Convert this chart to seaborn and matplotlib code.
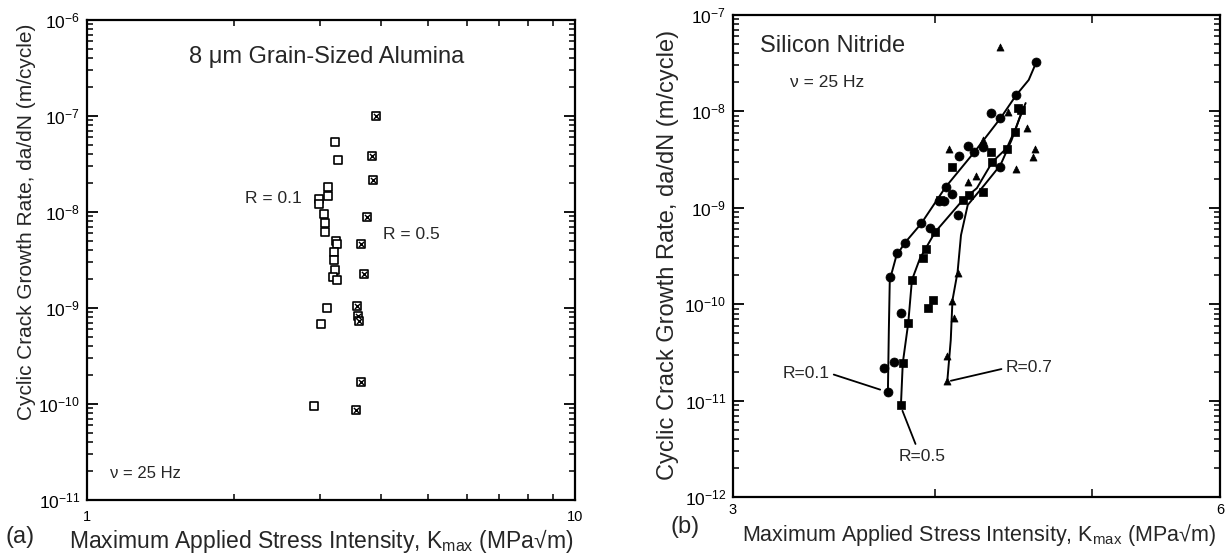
import numpy as np
import pandas as pd
import matplotlib
matplotlib.use("Agg")
import matplotlib.pyplot as plt
import seaborn as sns
from matplotlib.ticker import FixedLocator, NullFormatter, FixedFormatter

# ---------------- Panel (a): 8 um grain-sized alumina ----------------
a_r01_k = [3.22, 3.27, 3.12, 3.12, 2.99, 2.99, 3.06, 3.08, 3.07, 3.24, 3.25,
           3.21, 3.21, 3.22, 3.19, 3.26, 3.11, 3.01, 2.92]
a_r01_rate = [5.3e-8, 3.5e-8, 1.84e-8, 1.47e-8, 1.36e-8, 1.21e-8, 9.5e-9, 7.7e-9,
              6.2e-9, 5.0e-9, 4.6e-9, 3.8e-9, 3.2e-9, 2.5e-9, 2.1e-9, 1.96e-9,
              9.9e-10, 6.8e-10, 9.5e-11]
a_r05_k = [3.91, 3.83, 3.86, 3.75, 3.65, 3.70, 3.58, 3.60, 3.61, 3.64, 3.56]
a_r05_rate = [1.0e-7, 3.8e-8, 2.15e-8, 8.9e-9, 4.6e-9, 2.26e-9, 1.05e-9, 8.3e-10,
              7.4e-10, 1.7e-10, 8.7e-11]

# ---------------- Panel (b): silicon nitride ----------------
b_r01_k = [3.74, 3.72, 3.77, 3.75, 3.79, 3.83, 3.81, 3.92, 3.97, 4.02, 4.05, 4.06,
           4.10, 4.13, 4.14, 4.19, 4.23, 4.28, 4.33, 4.39, 4.39, 4.49, 4.62]
b_r01_rate = [1.23e-11, 2.2e-11, 2.5e-11, 1.9e-10, 3.4e-10, 4.3e-10, 8.1e-11, 6.9e-10,
              6.2e-10, 1.18e-9, 1.18e-9, 1.64e-9, 1.4e-9, 8.4e-10, 3.44e-9, 4.38e-9,
              3.79e-9, 4.27e-9, 9.6e-9, 8.5e-9, 2.65e-9, 1.48e-8, 3.25e-8]
b_r05_k = [3.81, 3.82, 3.85, 3.87, 3.93, 3.95, 4.00, 3.99, 3.96, 4.03, 4.10, 4.16,
           4.20, 4.28, 4.33, 4.34, 4.43, 4.48, 4.50, 4.52]
b_r05_rate = [9.0e-12, 2.45e-11, 6.4e-11, 1.78e-10, 3.0e-10, 3.7e-10, 5.6e-10, 1.1e-10,
              9.1e-11, 1.2e-9, 2.65e-9, 1.2e-9, 1.36e-9, 1.46e-9, 3.79e-9, 3.0e-9,
              4.07e-9, 6.1e-9, 1.08e-8, 1.03e-8]
b_r07_k = [4.07, 4.07, 4.11, 4.10, 4.13, 4.19, 4.24, 4.08, 4.28, 4.44, 4.49, 4.56,
           4.61, 4.60, 4.39]
b_r07_rate = [1.6e-11, 2.9e-11, 7.2e-11, 1.08e-10, 2.1e-10, 1.85e-9, 2.14e-9, 4.07e-9,
              5.05e-9, 9.9e-9, 2.52e-9, 6.7e-9, 4.07e-9, 3.37e-9, 4.66e-8]

# fitted trend curves
c_r01_k = [3.74, 3.745, 3.75, 3.785, 3.83, 3.92, 4.06, 4.23, 4.39, 4.49, 4.57, 4.62]
c_r01_rate = [1.23e-11, 5.4e-11, 1.78e-10, 3.16e-10, 4.3e-10, 6.8e-10, 1.64e-9,
              3.79e-9, 8.5e-9, 1.48e-8, 2.12e-8, 3.25e-8]
c_r05_k = [3.81, 3.82, 3.85, 3.87, 3.915, 4.00, 4.16, 4.245, 4.34, 4.43, 4.49, 4.53]
c_r05_rate = [9.0e-12, 2.45e-11, 6.4e-11, 1.78e-10, 3.0e-10, 5.6e-10, 1.2e-9, 1.6e-9,
              3.0e-9, 4.17e-9, 6.9e-9, 1.03e-8]
c_r07_k = [4.07, 4.09, 4.10, 4.13, 4.15, 4.19, 4.29, 4.39, 4.46, 4.51, 4.55]
c_r07_rate = [1.6e-11, 4.25e-11, 1.1e-10, 2.16e-10, 5.2e-10, 1.07e-9, 1.72e-9, 2.78e-9,
              5.05e-9, 8.5e-9, 1.22e-8]

a_yticks = [1e-11, 1e-10, 1e-9, 1e-8, 1e-7, 1e-6]
a_ytick_labels = ["10$^{-11}$", "10$^{-10}$", "10$^{-9}$", "10$^{-8}$", "10$^{-7}$", "10$^{-6}$"]
b_yticks = [1e-12, 1e-11, 1e-10, 1e-9, 1e-8, 1e-7]
b_ytick_labels = ["10$^{-12}$", "10$^{-11}$", "10$^{-10}$", "10$^{-9}$", "10$^{-8}$", "10$^{-7}$"]

sns.set_style("ticks")
plt.rcParams['font.family'] = ['Liberation Sans', 'DejaVu Sans']
plt.rcParams['mathtext.fontset'] = 'custom'
plt.rcParams['mathtext.rm'] = 'Liberation Sans'
plt.rcParams['mathtext.it'] = 'Liberation Sans:italic'
plt.rcParams['mathtext.bf'] = 'Liberation Sans:bold'
plt.rcParams['mathtext.default'] = 'regular'

W, H = 1227, 555
fig = plt.figure(figsize=(W / 100, H / 100), dpi=100)
axa = fig.add_axes([87 / W, 1 - 500 / H, 488 / W, 480 / H])
axb = fig.add_axes([733 / W, 1 - 497 / H, 487 / W, 482 / H])

ylab = "Cyclic Crack Growth Rate, da/dN (m/cycle)"
xlab = "Maximum Applied Stress Intensity, K$_{max}$ (MPa\u221am)"


def decade_minors(lo, hi):
    out = []
    for e in range(lo, hi):
        out += [m * 10.0 ** e for m in range(2, 10)]
    return out


def style_axis(ax):
    for sp in ax.spines.values():
        sp.set_linewidth(1.6)
        sp.set_color("black")
    ax.tick_params(which="both", direction="in", top=True, right=True, colors="black")
    ax.tick_params(which="major", length=8, width=1.3, labelsize=12.5, pad=5)
    ax.tick_params(which="minor", length=4.5, width=1.1)
    ax.tick_params(axis="x", which="major", labelsize=10.5, pad=7)


# ---------------- Panel (a) ----------------
sns.scatterplot(x=a_r01_k, y=a_r01_rate, marker="s", s=38, facecolor="white",
                edgecolor="black", linewidth=1.2, ax=axa, zorder=3)
sns.scatterplot(x=a_r05_k, y=a_r05_rate, marker="s", s=38, facecolor="white",
                edgecolor="black", linewidth=1.2, ax=axa, zorder=3)
sns.scatterplot(x=a_r05_k, y=a_r05_rate, marker="x", s=14, color="black",
                linewidth=1.0, ax=axa, zorder=4)
axa.set_xscale("log")
axa.set_yscale("log")
axa.set_xlim(1, 10)
axa.set_ylim(1e-11, 1e-6)
axa.xaxis.set_major_locator(FixedLocator([1, 10]))
axa.xaxis.set_major_formatter(FixedFormatter(["1", "10"]))
axa.xaxis.set_minor_locator(FixedLocator([2, 3, 4, 5, 6, 7, 8, 9]))
axa.xaxis.set_minor_formatter(NullFormatter())
axa.yaxis.set_major_locator(FixedLocator(a_yticks))
axa.yaxis.set_major_formatter(FixedFormatter(a_ytick_labels))
axa.yaxis.set_minor_locator(FixedLocator(decade_minors(-11, -6)))
axa.yaxis.set_minor_formatter(NullFormatter())
style_axis(axa)
axa.set_ylabel(ylab, fontsize=15, va="center")
axa.yaxis.set_label_coords(-0.123, 0.579)
axa.set_xlabel(xlab, fontsize=16.5, va="baseline")
axa.xaxis.set_label_coords(0.48, -0.1)
axa.text(0.492, 0.910, "8 \u03bcm Grain-Sized Alumina", transform=axa.transAxes,
         ha="center", va="baseline", fontsize=17)
axa.text(0.324, 0.619, "R = 0.1", transform=axa.transAxes, ha="left",
         va="baseline", fontsize=12.5)
axa.text(0.607, 0.544, "R = 0.5", transform=axa.transAxes, ha="left",
         va="baseline", fontsize=12.5)
axa.text(0.047, 0.046, "\u03bd = 25 Hz", transform=axa.transAxes, ha="left",
         va="baseline", fontsize=12)

# ---------------- Panel (b) ----------------
for ck, cr in [(c_r01_k, c_r01_rate), (c_r05_k, c_r05_rate), (c_r07_k, c_r07_rate)]:
    sns.lineplot(x=ck, y=cr, sort=False, estimator=None, color="black",
                 linewidth=1.4, ax=axb, zorder=2)
sns.scatterplot(x=b_r01_k, y=b_r01_rate, marker="o", s=42, color="black",
                edgecolor="black", linewidth=0.5, ax=axb, zorder=3)
sns.scatterplot(x=b_r05_k, y=b_r05_rate, marker="s", s=36, color="black",
                edgecolor="black", linewidth=0.5, ax=axb, zorder=3)
sns.scatterplot(x=b_r07_k, y=b_r07_rate, marker="^", s=26, color="black",
                edgecolor="black", linewidth=0.5, ax=axb, zorder=3)
axb.set_xscale("log")
axb.set_yscale("log")
axb.set_xlim(3, 6)
axb.set_ylim(1e-12, 1e-7)
axb.xaxis.set_major_locator(FixedLocator([3, 6]))
axb.xaxis.set_major_formatter(FixedFormatter(["3", "6"]))
axb.xaxis.set_minor_locator(FixedLocator([4, 5]))
axb.xaxis.set_minor_formatter(NullFormatter())
axb.yaxis.set_major_locator(FixedLocator(b_yticks))
axb.yaxis.set_major_formatter(FixedFormatter(b_ytick_labels))
axb.yaxis.set_minor_locator(FixedLocator(decade_minors(-12, -7)))
axb.yaxis.set_minor_formatter(NullFormatter())
style_axis(axb)
axb.tick_params(axis="x", which="major", pad=4)
axb.tick_params(axis="x", which="minor", length=6)
axb.set_ylabel(ylab, fontsize=17, va="center")
axb.yaxis.set_label_coords(-0.133, 0.502)
axb.set_xlabel(xlab, fontsize=15.5, va="baseline")
axb.xaxis.set_label_coords(0.505, -0.092)
axb.text(0.055, 0.923, "Silicon Nitride", transform=axb.transAxes, ha="left",
         va="baseline", fontsize=17)
axb.text(0.117, 0.851, "\u03bd = 25 Hz", transform=axb.transAxes, ha="left",
         va="baseline", fontsize=12.5)

lead = dict(arrowstyle="-", lw=1.3, color="black", shrinkA=1, shrinkB=3)
axb.annotate("R=0.1", xy=(3.72, 1.26e-11), xytext=(3.44, 1.93e-11), ha="right",
             va="center", fontsize=12.5, arrowprops=dict(lead, relpos=(1.0, 0.5)))
axb.annotate("R=0.5", xy=(3.81, 8.6e-12), xytext=(3.926, 2.66e-12), ha="center",
             va="center", fontsize=12.5, arrowprops=dict(lead, relpos=(0.4, 1.0)))
axb.annotate("R=0.7", xy=(4.067, 1.57e-11), xytext=(4.425, 2.18e-11), ha="left",
             va="center", fontsize=12.5, arrowprops=dict(lead, relpos=(0.0, 0.5)))

fig.text(20 / W, 1 - 537 / H, "(a)", ha="center", va="center", fontsize=17)
fig.text(685 / W, 1 - 527 / H, "(b)", ha="center", va="center", fontsize=17)

fig.savefig("out.png", dpi=100)
